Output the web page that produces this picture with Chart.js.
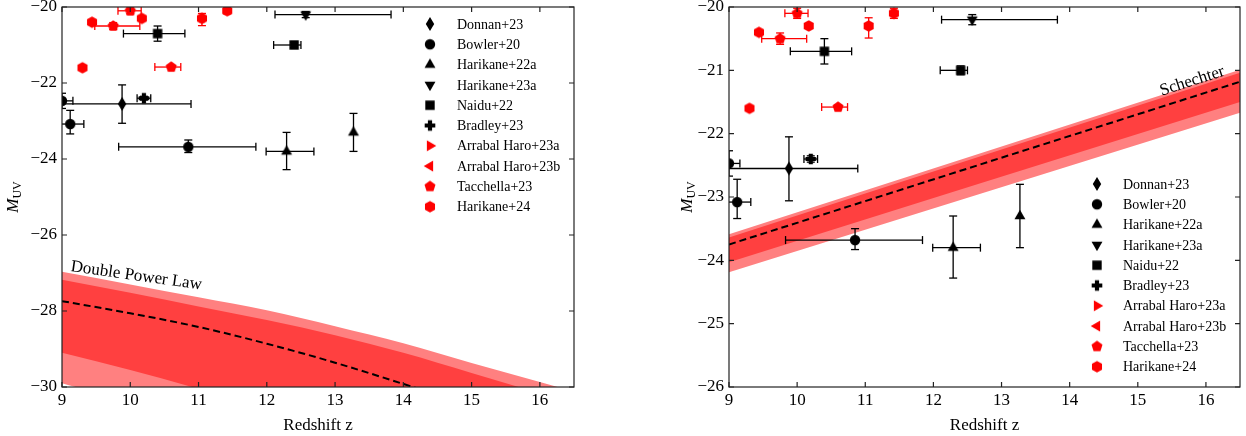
<!DOCTYPE html>
<html>
<head>
<meta charset="utf-8">
<script src="https://cdn.jsdelivr.net/npm/chart.js@4.4.0/dist/chart.umd.min.js"></script>
<style>
  html, body { margin: 0; padding: 0; background: #fff; }
  #left { position: absolute; left: 0; top: 0; width: 620px; height: 436px; }
  #right { position: absolute; left: 620px; top: 0; width: 626px; height: 436px; }
</style>
</head>
<body>
<div id="left"><canvas id="dplChart"></canvas></div>
<div id="right"><canvas id="schChart"></canvas></div>
<script>
// tick labels
const zTicks = [9, 10, 11, 12, 13, 14, 15, 16];
const mTicksDpl = [-20, -22, -24, -26, -28, -30];
const mTicksSch = [-20, -21, -22, -23, -24, -25, -26];

// observations, one row per galaxy: [z, M_UV, zErrMinus, zErrPlus, mErrMinus, mErrPlus]
const donnan23 = [[9.88, -22.55, 0.9, 1.01, 0.51, 0.5]];
const bowler20 = [[9.0, -22.47, 0.16, 0.16, 0.2, 0.2], [9.12, -23.08, 0.2, 0.2, 0.26, 0.36], [10.85, -23.68, 1.02, 0.99, 0.15, 0.18]];
const harikane22a = [[12.29, -23.8, 0.3, 0.4, 0.48, 0.5], [13.27, -23.3, 0, 0, 0.5, 0.5]];
const harikane23a = [[12.57, -20.2, 0.45, 1.25, 0.08, 0.08]];
const naidu22 = [[10.4, -20.7, 0.5, 0.4, 0.2, 0.2], [12.4, -21.0, 0.3, 0.1, 0.07, 0.07]];
const bradley23 = [[10.2, -22.4, 0.1, 0.1, 0.05, 0.05]];
const arrabalHaro23a = [];
const arrabalHaro23b = [];
const tacchella23 = [[9.75, -20.5, 0.27, 0.39, 0.09, 0.09], [10.0, -20.1, 0.18, 0.16, 0.08, 0.08], [10.6, -21.58, 0.24, 0.14, 0.03, 0.03]];
const harikane24 = [[9.3, -21.6, 0, 0, 0, 0], [9.44, -20.4, 0, 0, 0, 0], [10.17, -20.3, 0, 0, 0, 0], [11.05, -20.3, 0.03, 0.03, 0.19, 0.13], [11.42, -20.1, 0.03, 0.03, 0.08, 0.08]];

// double power law fit: median and 1/2 sigma bands
const dplZ = [9, 10, 11, 12, 13, 14, 15, 16, 16.5];
const dplMedian = [-27.74, -28.06, -28.42, -28.86, -29.36, -29.92, -30.5, -31.1, -31.4];
const dpl1Up = [-27.18, -27.52, -27.88, -28.24, -28.64, -29.1, -29.63, -30.17, -30.45];
const dpl1Lo = [-29.1, -29.55, -30.05, -30.6, -31.2, -31.8, -32.4, -33.0, -33.3];
const dpl2Up = [-26.97, -27.3, -27.64, -27.98, -28.4, -28.85, -29.37, -29.87, -30.12];
const dpl2Lo = [-29.9, -30.4, -30.9, -31.4, -32.0, -32.6, -33.2, -33.8, -34.1];

// schechter fit
const schZ = [9, 16.5];
const schMedian = [-23.75, -21.18];
const sch1Up = [-23.64, -21.04];
const sch1Lo = [-24.03, -21.5];
const sch2Up = [-23.59, -20.99];
const sch2Lo = [-24.19, -21.67];

Chart.defaults.font.family = "'Liberation Serif', 'Times New Roman', serif";
Chart.defaults.color = '#000';

function marker(shape, color) {
  const s = 16, h = s / 2;
  const c = document.createElement('canvas');
  c.width = c.height = s;
  const g = c.getContext('2d');
  g.fillStyle = color;
  g.beginPath();
  const poly = (n, r, rot) => {
    for (let i = 0; i < n; i++) {
      const a = rot + i * 2 * Math.PI / n;
      g.lineTo(h + r * Math.cos(a), h + r * Math.sin(a));
    }
  };
  if (shape === 'circle') g.arc(h, h, 5.2, 0, 2 * Math.PI);
  else if (shape === 'diamond') { g.moveTo(h, h - 7); g.lineTo(h + 4.2, h); g.lineTo(h, h + 7); g.lineTo(h - 4.2, h); }
  else if (shape === 'up') poly(3, 6.3, -Math.PI / 2);
  else if (shape === 'down') poly(3, 6.3, Math.PI / 2);
  else if (shape === 'right') poly(3, 6.3, 0);
  else if (shape === 'left') poly(3, 6.3, Math.PI);
  else if (shape === 'square') g.rect(h - 4.7, h - 4.7, 9.4, 9.4);
  else if (shape === 'plus') {
    const a = 2.1, r = 5.3;
    [[-a, -r], [a, -r], [a, -a], [r, -a], [r, a], [a, a], [a, r], [-a, r], [-a, a], [-r, a], [-r, -a], [-a, -a]]
      .forEach(p => g.lineTo(h + p[0], h + p[1]));
  }
  else if (shape === 'pentagon') poly(5, 5.8, -Math.PI / 2);
  else if (shape === 'hexagon') poly(6, 5.8, -Math.PI / 2);
  g.closePath();
  g.fill();
  return c;
}

const series = [
  ['Donnan+23', donnan23, 'diamond', '#000'],
  ['Bowler+20', bowler20, 'circle', '#000'],
  ['Harikane+22a', harikane22a, 'up', '#000'],
  ['Harikane+23a', harikane23a, 'down', '#000'],
  ['Naidu+22', naidu22, 'square', '#000'],
  ['Bradley+23', bradley23, 'plus', '#000'],
  ['Arrabal Haro+23a', arrabalHaro23a, 'right', '#f00'],
  ['Arrabal Haro+23b', arrabalHaro23b, 'left', '#f00'],
  ['Tacchella+23', tacchella23, 'pentagon', '#f00'],
  ['Harikane+24', harikane24, 'hexagon', '#f00']
];

function pointSets() {
  return series.map(([label, rows, shape, color]) => ({
    label: label,
    data: rows.map(r => ({ x: r[0], y: r[1] })),
    errors: rows,
    errColor: color,
    pointStyle: marker(shape, color),
    legendMarker: true,
    pointRadius: 5,
    showLine: false,
    clip: 0,
    order: 0
  }));
}

function line(zs, ms, extra) {
  return Object.assign({
    data: zs.map((z, i) => ({ x: z, y: ms[i] })),
    showLine: true, pointRadius: 0, borderWidth: 0, fill: false,
    cubicInterpolationMode: 'monotone'
  }, extra);
}

function bandSets(zs, med, up1, lo1, up2, lo2) {
  return [
    line(zs, up2, { fill: '+1', backgroundColor: 'rgb(255,128,128)', order: 3 }),
    line(zs, lo2, { order: 3 }),
    line(zs, up1, { fill: '+1', backgroundColor: 'rgb(255,64,64)', order: 2 }),
    line(zs, lo1, { order: 2 }),
    line(zs, med, { borderColor: '#000', borderWidth: 2, borderDash: [7, 4], order: 1 })
  ];
}

const errorBars = {
  id: 'errorBars',
  beforeDatasetDraw(chart, args) {
    const ds = chart.data.datasets[args.index];
    if (!ds.errors) return;
    const xs = chart.scales.x, ys = chart.scales.y, ctx = chart.ctx, a = chart.chartArea;
    ctx.save();
    ctx.beginPath();
    ctx.rect(a.left, a.top, a.right - a.left, a.bottom - a.top);
    ctx.clip();
    ctx.strokeStyle = ds.errColor;
    ctx.lineWidth = 1.3;
    const seg = (x0, y0, x1, y1) => { ctx.beginPath(); ctx.moveTo(x0, y0); ctx.lineTo(x1, y1); ctx.stroke(); };
    ds.errors.forEach(([z, m, zl, zh, ml, mh]) => {
      const px = xs.getPixelForValue(z), py = ys.getPixelForValue(m);
      if (zl || zh) {
        const x0 = xs.getPixelForValue(z - zl), x1 = xs.getPixelForValue(z + zh);
        seg(x0, py, x1, py);
        seg(x0, py - 4, x0, py + 4);
        seg(x1, py - 4, x1, py + 4);
      }
      if (ml || mh) {
        const y0 = ys.getPixelForValue(m - ml), y1 = ys.getPixelForValue(m + mh);
        seg(px, y0, px, y1);
        seg(px - 4, y0, px + 4, y0);
        seg(px - 4, y1, px + 4, y1);
      }
    });
    ctx.restore();
  }
};

const decor = {
  id: 'decor',
  afterDraw(chart, args, o) {
    const ctx = chart.ctx, a = chart.chartArea, xs = chart.scales.x, ys = chart.scales.y;
    ctx.save();
    // frame and inward ticks
    ctx.strokeStyle = '#222';
    ctx.lineWidth = 1.2;
    ctx.strokeRect(a.left, a.top, a.right - a.left, a.bottom - a.top);
    ctx.beginPath();
    xs.ticks.forEach(t => {
      const x = xs.getPixelForValue(t.value);
      ctx.moveTo(x, a.bottom); ctx.lineTo(x, a.bottom - 5);
      ctx.moveTo(x, a.top); ctx.lineTo(x, a.top + 5);
    });
    ys.ticks.forEach(t => {
      const y = ys.getPixelForValue(t.value);
      ctx.moveTo(a.left, y); ctx.lineTo(a.left + 5, y);
      ctx.moveTo(a.right, y); ctx.lineTo(a.right - 5, y);
    });
    ctx.stroke();

    // y title M_UV
    ctx.fillStyle = '#000';
    ctx.translate(o.yTitleX, (a.top + a.bottom) / 2);
    ctx.rotate(-Math.PI / 2);
    ctx.font = "italic 17px 'Liberation Serif', serif";
    const wM = ctx.measureText('M').width;
    ctx.font = "12px 'Liberation Serif', serif";
    const wUV = ctx.measureText('UV').width;
    const x0 = -(wM + wUV) / 2;
    ctx.textBaseline = 'middle';
    ctx.font = "italic 17px 'Liberation Serif', serif";
    ctx.fillText('M', x0, 0);
    ctx.font = "12px 'Liberation Serif', serif";
    ctx.fillText('UV', x0 + wM, 4);
    ctx.setTransform(1, 0, 0, 1, 0, 0);

    // curve label
    ctx.save();
    ctx.font = "17px 'Liberation Serif', serif";
    ctx.textBaseline = 'alphabetic';
    ctx.translate(xs.getPixelForValue(o.label.z), ys.getPixelForValue(o.label.m));
    ctx.rotate(o.label.angle * Math.PI / 180);
    ctx.fillText(o.label.text, 0, 0);
    ctx.restore();

    // legend
    ctx.font = "14px 'Liberation Serif', serif";
    ctx.textBaseline = 'middle';
    chart.data.datasets.filter(d => d.legendMarker).forEach((d, i) => {
      const y = o.legend.y + i * o.legend.step;
      const img = d.pointStyle;
      ctx.drawImage(img, o.legend.markerX - img.width / 2, y - img.height / 2);
      ctx.fillText(d.label, o.legend.textX, y + 1);
    });
    ctx.restore();
  }
};

const fmt = v => (v < 0 ? '\u2212' + Math.abs(v) : String(v));

function makeChart(id, bands, mTicks, mMin, yWidth, padRight, decorOpts) {
  return new Chart(document.getElementById(id), {
    type: 'scatter',
    data: { datasets: [...pointSets(), ...bands] },
    options: {
      responsive: true,
      maintainAspectRatio: false,
      animation: false,
      events: [],
      layout: { padding: { top: 7, right: padRight, bottom: 0, left: 0 } },
      plugins: { legend: { display: false }, tooltip: { enabled: false }, decor: decorOpts },
      scales: {
        x: {
          type: 'linear', min: 9, max: 16.5,
          afterBuildTicks: s => { s.ticks = zTicks.map(v => ({ value: v })); },
          afterFit: s => { s.height = 49; s.paddingLeft = 0; s.paddingRight = 0; },
          grid: { display: false, drawTicks: false },
          border: { display: false },
          ticks: { font: { size: 17 }, color: '#000', padding: 3, maxRotation: 0, autoSkip: false, callback: fmt },
          title: { display: true, text: 'Redshift z', font: { size: 17 }, padding: { top: 0, bottom: 0 } }
        },
        y: {
          type: 'linear', min: mMin, max: -20,
          afterBuildTicks: s => { s.ticks = mTicks.map(v => ({ value: v })); },
          afterFit: s => { s.width = yWidth; s.paddingTop = 0; s.paddingBottom = 0; },
          grid: { display: false, drawTicks: false },
          border: { display: false },
          ticks: { font: { size: 17 }, color: '#000', padding: 5, autoSkip: false, callback: fmt }
        }
      }
    },
    plugins: [errorBars, decor]
  });
}

makeChart('dplChart', bandSets(dplZ, dplMedian, dpl1Up, dpl1Lo, dpl2Up, dpl2Lo), mTicksDpl, -30, 62, 46, {
  yTitleX: 14,
  label: { text: 'Double Power Law', z: 9.12, m: -26.95, angle: 8 },
  legend: { markerX: 430, textX: 457, y: 24, step: 20.3 }
});

makeChart('schChart', bandSets(schZ, schMedian, sch1Up, sch1Lo, sch2Up, sch2Lo), mTicksSch, -26, 109, 5, {
  yTitleX: 68,
  label: { text: 'Schechter', z: 15.35, m: -21.4, angle: -17.8 },
  legend: { markerX: 477, textX: 503, y: 184, step: 20.3 }
});
</script>
</body>
</html>
